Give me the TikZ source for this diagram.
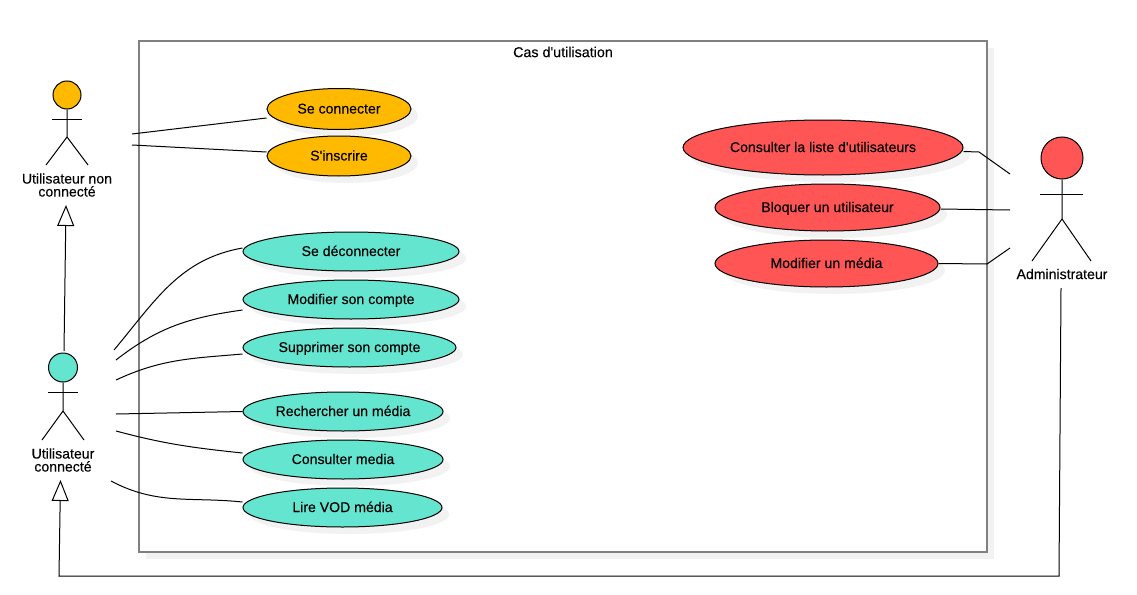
\documentclass[tikz,border=0pt]{standalone}
\usepackage{fontspec}
\setmainfont[Ligatures=TeXOff]{Liberation Sans}
\newfontfamily\casefont[Ligatures=TeXOff, FakeBold=0.2]{Liberation Sans}
\usetikzlibrary{shadows}
\usetikzlibrary{shapes,arrows.meta}
\definecolor{guestcol}{HTML}{FFBA00}
\definecolor{usercol}{HTML}{64E5D0}
\definecolor{admincol}{HTML}{FF5555}
\definecolor{shadowcol}{HTML}{F2F2F2}
\definecolor{framecol}{HTML}{808080}

\tikzset{
  usecase/.style={ellipse, draw=black, line width=1pt, inner sep=0pt, text height=12pt, text depth=3pt,
    font=\casefont\fontsize{14.1}{14}\selectfont,
    drop shadow={shadow xshift=7pt, shadow yshift=-7pt, fill=shadowcol, opacity=1}},
  head/.style={circle, draw=black, line width=1pt, inner sep=0pt},
  actorlabel/.style={align=center, inner sep=0pt, font=\casefont\fontsize{14.1}{13}\selectfont},
  link/.style={black, line width=1pt},
  inherit/.style={link, -{Triangle[open, fill=white, length=21pt, width=17pt, line width=1pt]}}
}

\begin{document}
\begin{tikzpicture}[x=1pt, y=-1pt]
\useasboundingbox (0,0) rectangle (1137,594);

\node[draw=framecol, line width=2pt, fill=white, minimum width=848pt, minimum height=511pt, inner sep=0pt,
  drop shadow={shadow xshift=7pt, shadow yshift=-7pt, fill=shadowcol, opacity=1}] (frame) at (563,296.5) {};
\node[inner sep=0pt, font=\casefont\fontsize{14.3}{14}\selectfont] (frametitle) at (563,52) {Cas d'utilisation};

% use cases
\node[usecase, fill=guestcol, minimum width=144pt, minimum height=41pt] (connect) at (339,109) {Se connecter};
\node[usecase, fill=guestcol, minimum width=144pt, minimum height=40pt] (signup) at (339,156) {S'inscrire};

\node[usecase, fill=usercol, minimum width=216pt, minimum height=39pt] (logout) at (351,251.5) {Se déconnecter};
\node[usecase, fill=usercol, minimum width=216pt, minimum height=39pt] (editaccount) at (351,299.5) {Modifier son compte};
\node[usecase, fill=usercol, minimum width=213pt, minimum height=39pt] (delaccount) at (349.5,347.5) {Supprimer son compte};
\node[usecase, fill=usercol, minimum width=200pt, minimum height=39pt] (search) at (343,411.5) {Rechercher un média};
\node[usecase, fill=usercol, minimum width=200pt, minimum height=39pt] (view) at (343,459.5) {Consulter media};
\node[usecase, fill=usercol, minimum width=199pt, minimum height=39pt] (play) at (342.5,507.5) {Lire VOD média};

\node[usecase, fill=admincol, minimum width=280pt, minimum height=55pt] (listusers) at (823,147.5) {Consulter la liste d'utilisateurs};
\node[usecase, fill=admincol, minimum width=225pt, minimum height=47pt] (block) at (827.5,207.5) {Bloquer un utilisateur};
\node[usecase, fill=admincol, minimum width=223pt, minimum height=47pt] (editmedia) at (826.5,263.5) {Modifier un média};

% actors
\node[head, fill=guestcol, minimum size=28pt] (guesthead) at (67,95) {};
\draw[link] (guesthead.south) -- (67,137) coordinate (guesthip) -- (46,165);
\draw[link] (guesthip) -- (88,165);
\draw[link] (52,119) -- (82,119);
\node[actorlabel] (guest) at (67,185) {Utilisateur non\\connecté};

\node[head, fill=usercol, minimum size=29pt] (userhead) at (63,367.5) {};
\draw[link] (userhead.south) -- (63,411) coordinate (userhip) -- (42,440);
\draw[link] (userhip) -- (84,440);
\draw[link] (48,392.5) -- (78,392.5);
\node[actorlabel] (user) at (63,460) {Utilisateur\\connecté};

\node[head, fill=admincol, minimum size=42pt] (adminhead) at (1062,158) {};
\draw[link] (adminhead.south) -- (1062,219) coordinate (adminhip) -- (1032,261);
\draw[link] (adminhip) -- (1091,261);
\draw[link] (1040,194) -- (1083,194);
\node[actorlabel] (admin) at (1062,274) {Administrateur};

% free ends
\coordinate (guestA) at (132,134);
\coordinate (guestB) at (132,145);
\coordinate (userA) at (114,350);
\coordinate (userB) at (116,360);
\coordinate (userC) at (116,380);
\coordinate (userD) at (116,414);
\coordinate (userE) at (116,431);
\coordinate (userF) at (111,481);
\coordinate (adminA) at (1010,174);
\coordinate (adminB) at (1010,210);
\coordinate (adminC) at (1010,248);
\coordinate (userup) at (64,351);
\coordinate (guestdown) at (66,205);
\coordinate (adminout) at (1061,288);
\coordinate (userdown) at (60.5,480);

% associations
\draw[link] (guestA) -- ([yshift=-9pt]connect.west);
\draw[link] (guestB) -- ([yshift=4pt]signup.west);
\draw[link] (userA) to[out=50, in=190] ([yshift=3.5pt]logout.west);
\draw[link] (userB) to[out=38, in=188] ([yshift=-10.5pt]editaccount.west);
\draw[link] (userC) to[out=25, in=185] ([yshift=-6.5pt]delaccount.west);
\draw[link] (userD) -- (search.west);
\draw[link] (userE) to[out=-15, in=174] ([yshift=6.5pt]view.west);
\draw[link] (userF) to[out=-28, in=174] ([yshift=5.5pt]play.west);
\draw[link] ([yshift=-4pt]listusers.east) -- (979,152) -- (adminA);
\draw[link] ([yshift=-1.5pt]block.east) -- (adminB);
\draw[link] (editmedia.east) -- (987,264) -- (adminC);

% generalisations
\draw[inherit] (userup) -- (guestdown);
\draw[inherit] (adminout) -- (1059,576) -- (59,576) -- (userdown);
\end{tikzpicture}
\end{document}
